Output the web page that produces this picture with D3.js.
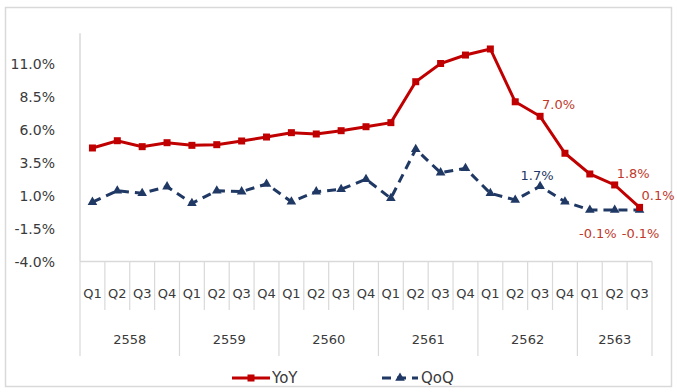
<!DOCTYPE html>
<html><head><meta charset="utf-8">
<script src="https://cdn.jsdelivr.net/npm/d3@7/dist/d3.min.js"></script>
<style>body{margin:0;background:#fff}svg{display:block}text{font-family:"DejaVu Sans",Verdana,sans-serif}</style>
</head><body><svg id="c" width="677" height="392"></svg>
<script>
const years = ["2558","2559","2560","2561","2562","2563"];
const quartersPerYear = [4,4,4,4,4,3];
const quarterNames = ["Q1","Q2","Q3","Q4"];
const yoy = [4.6,5.15,4.7,5.0, 4.8,4.85,5.13,5.43, 5.76,5.66,5.91,6.21, 6.52,9.62,11.0,11.64, 12.1,8.1,7.0,4.2, 2.63,1.8,0.1];
const qoq = [0.5,1.36,1.17,1.67, 0.41,1.36,1.29,1.87, 0.53,1.29,1.47,2.23, 0.79,4.5,2.73,3.06, 1.17,0.66,1.7,0.53, -0.1,-0.1,-0.1];
const yTicks = [-4.0,-1.5,1.0,3.5,6.0,8.5,11.0];
const yoyLabelIdx = [18,21,22];
const qoqLabelIdx = [18,20,22];

const cats = [];
years.forEach((y,i)=>{for(let q=0;q<quartersPerYear[i];q++) cats.push(y+"-"+quarterNames[q]);});

const loc = d3.formatLocale({decimal:".",thousands:",",grouping:[3],currency:["",""],minus:"-"});
const fmt = d => loc.format(".1f")(d)+"%";

const svg = d3.select("#c");
svg.append("rect").attr("x",5.5).attr("y",7.5).attr("width",666).attr("height",379)
  .attr("fill","#fff").attr("stroke","#d9d9d9").attr("stroke-width",1.5);

const x = d3.scaleBand().domain(cats).range([80,652]).padding(0);
const y = d3.scaleLinear().domain([-4,11]).range([261.5,63.5]);
const cx = i => x(cats[i]) + x.bandwidth()/2;
const axisCol = "#d9d9d9", textCol = "#3a3a3a";

// y axis line
svg.append("line").attr("x1",80).attr("x2",80).attr("y1",y(13.3)).attr("y2",y(-4)).attr("stroke",axisCol).attr("stroke-width",1.5);
svg.append("g").selectAll("text").data(yTicks).join("text")
  .attr("x",55).attr("y",d=>y(d)).attr("dy","0.36em").attr("text-anchor","end")
  .attr("font-size",14).attr("fill",textCol).text(fmt);

// category axis
svg.append("line").attr("x1",80).attr("x2",652).attr("y1",y(-4)).attr("y2",y(-4)).attr("stroke",axisCol).attr("stroke-width",1.5);
const bounds = d3.range(cats.length+1).map(i=> i<cats.length ? x(cats[i]) : x(cats[cats.length-1])+x.bandwidth());
let yearStarts = [0]; quartersPerYear.forEach((n,i)=>yearStarts.push(yearStarts[i]+n));
svg.append("g").selectAll("line").data(bounds.map((b,i)=>({b,i}))).join("line")
  .attr("x1",d=>d.b).attr("x2",d=>d.b).attr("y1",y(-4))
  .attr("y2",d=>yearStarts.includes(d.i)?356:310)
  .attr("stroke",axisCol).attr("stroke-width",1.2);
svg.append("g").selectAll("text").data(cats).join("text")
  .attr("x",(d,i)=>cx(i)).attr("y",293).attr("dy","0.36em").attr("text-anchor","middle")
  .attr("font-size",13).attr("fill",textCol).text(d=>d.split("-")[1]);
svg.append("g").selectAll("text").data(years).join("text")
  .attr("x",(d,i)=>(bounds[yearStarts[i]]+bounds[yearStarts[i+1]])/2).attr("y",339).attr("dy","0.36em")
  .attr("text-anchor","middle").attr("font-size",13).attr("fill",textCol).text(d=>d);

const red = "#c00000", navy = "#1f3864";
const line = d3.line().x((d,i)=>cx(i)).y(d=>y(d));

// QoQ
svg.append("path").datum(qoq).attr("d",line).attr("fill","none").attr("stroke",navy)
  .attr("stroke-width",3).attr("stroke-dasharray","9,6");
const tri = d3.symbol().type(d3.symbolTriangle).size(40);
svg.append("g").selectAll("path").data(qoq).join("path")
  .attr("d",tri).attr("transform",(d,i)=>`translate(${cx(i)},${y(d)})`).attr("fill",navy);

// YoY
svg.append("path").datum(yoy).attr("d",line).attr("fill","none").attr("stroke",red).attr("stroke-width",3);
svg.append("g").selectAll("rect").data(yoy).join("rect")
  .attr("x",(d,i)=>cx(i)-3.5).attr("y",d=>y(d)-3.5).attr("width",7).attr("height",7).attr("fill",red);

// data labels
svg.append("g").selectAll("text").data(yoyLabelIdx).join("text")
  .attr("x",i=>cx(i)+2).attr("y",i=>y(yoy[i])-12).attr("dy","0.36em")
  .attr("font-size",13).attr("fill","#c0392b").text(i=>fmt(yoy[i]));
svg.append("g").selectAll("text").data(qoqLabelIdx).join("text")
  .attr("x",(i,k)=>k===0?cx(i)-3:cx(i)+(k===1?8:1)).attr("y",(i,k)=>k===0?y(qoq[i])-11:y(qoq[i])+23).attr("dy","0.36em")
  .attr("text-anchor","middle").attr("font-size",13).attr("fill",(i,k)=>k===0?navy:"#c0392b").text(i=>fmt(qoq[i]));

// legend
const ly = 378;
svg.append("line").attr("x1",232).attr("x2",270).attr("y1",ly).attr("y2",ly).attr("stroke",red).attr("stroke-width",3);
svg.append("rect").attr("x",247.5).attr("y",ly-3.5).attr("width",7).attr("height",7).attr("fill",red);
svg.append("text").attr("x",272).attr("y",ly).attr("dy","0.36em").attr("font-size",15).attr("fill",textCol).text("YoY");
svg.append("line").attr("x1",382).attr("x2",418).attr("y1",ly).attr("y2",ly).attr("stroke",navy).attr("stroke-width",3).attr("stroke-dasharray","9,6");
svg.append("path").attr("d",tri).attr("transform",`translate(400,${ly})`).attr("fill",navy);
svg.append("text").attr("x",421).attr("y",ly).attr("dy","0.36em").attr("font-size",15).attr("fill",textCol).text("QoQ");
</script></body></html>
